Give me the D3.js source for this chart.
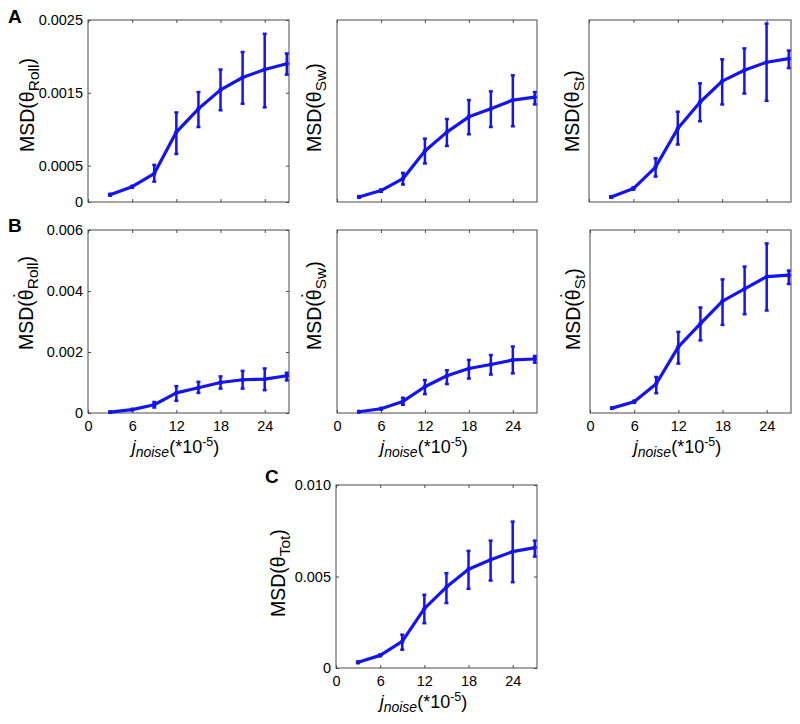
<!DOCTYPE html>
<html><head><meta charset="utf-8">
<script src="https://cdn.jsdelivr.net/npm/d3@7"></script>
<style>body{margin:0;background:#fff}svg{display:block}text{font-family:"Liberation Sans",Arial,sans-serif;fill:#000}</style>
</head><body><svg id="chart" width="800" height="724"></svg>
<script>
const xNoise = [3, 6, 9, 12, 15, 18, 21, 24, 27];
const xTicks = [0, 6, 12, 18, 24];
const xTickLabels = ["0", "6", "12", "18", "24"];

const yTicksA = [0, 0.0005, 0.0015, 0.0025];
const yTickLabelsA = ["0", "0.0005", "0.0015", "0.0025"];
const yTicksB = [0, 0.002, 0.004, 0.006];
const yTickLabelsB = ["0", "0.002", "0.004", "0.006"];
const yTicksC = [0, 0.005, 0.010];
const yTickLabelsC = ["0", "0.005", "0.010"];

const rollAMean = [0.00010, 0.00021, 0.00039, 0.00096, 0.00128, 0.00154, 0.00171, 0.00182, 0.00190];
const rollAHi   = [0.00011, 0.00022, 0.00051, 0.00123, 0.00151, 0.00182, 0.00206, 0.00231, 0.00204];
const rollALo   = [0.00009, 0.00020, 0.00028, 0.00066, 0.00103, 0.00126, 0.00135, 0.00130, 0.00175];

const swAMean = [0.000069, 0.000157, 0.00032, 0.00070, 0.00096, 0.00117, 0.00128, 0.00140, 0.00144];
const swAHi   = [0.000080, 0.000170, 0.00040, 0.00087, 0.00114, 0.00140, 0.00152, 0.00174, 0.00151];
const swALo   = [0.000060, 0.000140, 0.00024, 0.00053, 0.00077, 0.00093, 0.00103, 0.00104, 0.00134];

const stAMean = [0.000069, 0.000184, 0.00048, 0.00101, 0.00137, 0.00166, 0.00181, 0.00192, 0.00197];
const stAHi   = [0.000080, 0.000200, 0.00060, 0.00124, 0.00163, 0.00196, 0.00211, 0.00245, 0.00208];
const stALo   = [0.000060, 0.000170, 0.00035, 0.00079, 0.00111, 0.00134, 0.00149, 0.00139, 0.00184];

const rollBMean = [0.00003, 0.00011, 0.00027, 0.00066, 0.00083, 0.00100, 0.00109, 0.00111, 0.00122];
const rollBHi   = [0.00004, 0.00013, 0.00036, 0.00088, 0.00102, 0.00120, 0.00138, 0.00146, 0.00132];
const rollBLo   = [0.00002, 0.00010, 0.00018, 0.00040, 0.00066, 0.00080, 0.00080, 0.00075, 0.00107];

const swBMean = [0.00004, 0.00014, 0.00038, 0.00086, 0.00122, 0.00146, 0.00159, 0.00174, 0.00177];
const swBHi   = [0.00005, 0.00016, 0.00050, 0.00108, 0.00140, 0.00174, 0.00190, 0.00218, 0.00187];
const swBLo   = [0.00003, 0.00012, 0.00027, 0.00062, 0.00095, 0.00113, 0.00126, 0.00130, 0.00165];

const stBMean = [0.00016, 0.00037, 0.00096, 0.00217, 0.00293, 0.00367, 0.00407, 0.00447, 0.00452];
const stBHi   = [0.00018, 0.00040, 0.00118, 0.00266, 0.00346, 0.00438, 0.00480, 0.00556, 0.00467];
const stBLo   = [0.00014, 0.00034, 0.00065, 0.00162, 0.00238, 0.00289, 0.00324, 0.00336, 0.00423];

const totMean = [0.00031, 0.00069, 0.00145, 0.00324, 0.00442, 0.00540, 0.00591, 0.00636, 0.00658];
const totHi   = [0.00035, 0.00073, 0.00182, 0.00400, 0.00518, 0.00640, 0.00696, 0.00800, 0.00696];
const totLo   = [0.00027, 0.00065, 0.00100, 0.00245, 0.00355, 0.00433, 0.00478, 0.00469, 0.00609];

const svg = d3.select("#chart");
const blue = "#1414f2";
const frame = "#4a4a4a";
const FONT = '"Liberation Sans",Arial,sans-serif';

const panels = [
  {x0:88, x1:289, y0:20, y1:202, ymax:0.0025, ticks:yTicksA, labels:yTickLabelsA, showY:true, showX:false,
   mean:rollAMean, hi:rollAHi, lo:rollALo, sub:"Roll", dot:false, lx:34, ly:152},
  {x0:337, x1:537, y0:20, y1:202, ymax:0.0025, ticks:yTicksA, labels:yTickLabelsA, showY:false, showX:false,
   mean:swAMean, hi:swAHi, lo:swALo, sub:"Sw", dot:false, lx:321, ly:152},
  {x0:589, x1:791, y0:20, y1:202, ymax:0.0025, ticks:yTicksA, labels:yTickLabelsA, showY:false, showX:false,
   mean:stAMean, hi:stAHi, lo:stALo, sub:"St", dot:false, lx:579, ly:152},
  {x0:88, x1:289, y0:230, y1:413, ymax:0.006, ticks:yTicksB, labels:yTickLabelsB, showY:true, showX:true,
   mean:rollBMean, hi:rollBHi, lo:rollBLo, sub:"Roll", dot:true, lx:33, ly:350},
  {x0:337, x1:537, y0:230, y1:413, ymax:0.006, ticks:yTicksB, labels:yTickLabelsB, showY:false, showX:true,
   mean:swBMean, hi:swBHi, lo:swBLo, sub:"Sw", dot:true, lx:321, ly:350},
  {x0:590, x1:791, y0:230, y1:413, ymax:0.006, ticks:yTicksB, labels:yTickLabelsB, showY:false, showX:true,
   mean:stBMean, hi:stBHi, lo:stBLo, sub:"St", dot:true, lx:580, ly:350},
  {x0:336, x1:537, y0:485, y1:668, ymax:0.010, ticks:yTicksC, labels:yTickLabelsC, showY:true, showX:true,
   mean:totMean, hi:totHi, lo:totLo, sub:"Tot", dot:false, lx:285, ly:617}
];

panels.forEach(p => {
  const x = d3.scaleLinear().domain([0, 27.3]).range([p.x0, p.x1]);
  const y = d3.scaleLinear().domain([0, p.ymax]).range([p.y1, p.y0]);
  const g = svg.append("g");
  const tl = 3;

  const xb = g.append("g").attr("transform", `translate(0,${p.y1})`)
    .call(d3.axisBottom(x).tickValues(xTicks).tickSizeInner(-tl).tickSizeOuter(0)
      .tickFormat((d,i) => p.showX ? xTickLabels[i] : ""));
  xb.select(".domain").remove();
  xb.selectAll("line").attr("stroke", frame);
  xb.selectAll("text").attr("font-size", 14.5).attr("y", 8).attr("dy", "0.71em").style("font-family", FONT);
  const xt = g.append("g").attr("transform", `translate(0,${p.y0})`)
    .call(d3.axisTop(x).tickValues(xTicks).tickSizeInner(-tl).tickSizeOuter(0).tickFormat(""));
  xt.select(".domain").remove();
  xt.selectAll("line").attr("stroke", frame);

  if (p.showY) {
    const yl = g.append("g").attr("transform", `translate(${p.x0},0)`)
      .call(d3.axisLeft(y).tickValues(p.ticks).tickSizeInner(-tl).tickSizeOuter(0)
        .tickFormat((d,i) => p.labels[i]));
    yl.select(".domain").remove();
    yl.selectAll("line").attr("stroke", frame);
    yl.selectAll("text").attr("font-size", 14.5).attr("x", -5).style("font-family", FONT);
    const yr = g.append("g").attr("transform", `translate(${p.x1},0)`)
      .call(d3.axisRight(y).tickValues(p.ticks).tickSizeInner(-tl).tickSizeOuter(0).tickFormat(""));
    yr.select(".domain").remove();
    yr.selectAll("line").attr("stroke", frame);
  }

  g.append("rect").attr("x", p.x0).attr("y", p.y0)
    .attr("width", p.x1 - p.x0).attr("height", p.y1 - p.y0)
    .attr("fill", "none").attr("stroke", frame).attr("stroke-width", 1);

  const pts = xNoise.map((v, i) => ({x: v, m: p.mean[i], hi: p.hi[i], lo: p.lo[i]}));
  const eb = g.append("g").attr("stroke", blue).attr("stroke-width", 2.5).attr("fill", "none");
  pts.forEach(d => {
    const cx = x(d.x);
    eb.append("line").attr("x1", cx).attr("x2", cx).attr("y1", y(d.hi)).attr("y2", y(d.lo));
    eb.append("line").attr("x1", cx - 2).attr("x2", cx + 2).attr("y1", y(d.hi)).attr("y2", y(d.hi));
    eb.append("line").attr("x1", cx - 2).attr("x2", cx + 2).attr("y1", y(d.lo)).attr("y2", y(d.lo));
  });
  g.append("path").datum(pts)
    .attr("d", d3.line().x(d => x(d.x)).y(d => y(d.m)))
    .attr("fill", "none").attr("stroke", blue).attr("stroke-width", 3.2)
    .attr("stroke-linejoin", "round").attr("stroke-linecap", "round");
  g.selectAll("circle.pt").data(pts).enter().append("circle")
    .attr("cx", d => x(d.x)).attr("cy", d => y(d.m)).attr("r", 2.2).attr("fill", blue);

  const fs = 19.5;
  const t = g.append("text").attr("transform", `translate(${p.lx},${p.ly}) rotate(-90)`)
    .attr("font-size", fs).attr("text-anchor", "start");
  t.append("tspan").text("MSD(");
  t.append("tspan").text("\u03B8");
  let subDx = 0;
  if (p.dot) {
    // dot above theta: U+02D9, centred over the theta glyph
    const thW = 0.556 * fs, dotW = 0.333 * fs;
    t.append("tspan").attr("dx", -(thW / 2 + dotW / 2)).attr("dy", -5).text("\u02D9");
    subDx = thW / 2 - dotW / 2;
    t.append("tspan").attr("font-size", 15.5).attr("dx", subDx).attr("dy", 10).text(p.sub);
  } else {
    t.append("tspan").attr("font-size", 15.5).attr("dy", 5).text(p.sub);
  }
  t.append("tspan").attr("dy", -5).text(")");

  if (p.showX) {
    const xl = g.append("text").attr("x", (p.x0 + p.x1) / 2 - 13).attr("y", p.y1 + 40)
      .attr("font-size", 18).attr("text-anchor", "middle");
    xl.append("tspan").attr("font-style", "italic").text("j");
    xl.append("tspan").attr("font-style", "italic").attr("font-size", 14).attr("dy", 4).text("noise");
    xl.append("tspan").attr("dy", -4).text("(*10");
    xl.append("tspan").attr("font-size", 12.5).attr("dy", -7).text("-5");
    xl.append("tspan").attr("dy", 7).text(")");
  }
});

const letters = [{t:"A", x:8, y:23}, {t:"B", x:8, y:232}, {t:"C", x:265, y:483}];
svg.selectAll("text.letter").data(letters).enter().append("text")
  .attr("class", "letter").attr("x", d => d.x).attr("y", d => d.y)
  .attr("font-size", 19).attr("font-weight", "bold").text(d => d.t);
</script></body></html>
